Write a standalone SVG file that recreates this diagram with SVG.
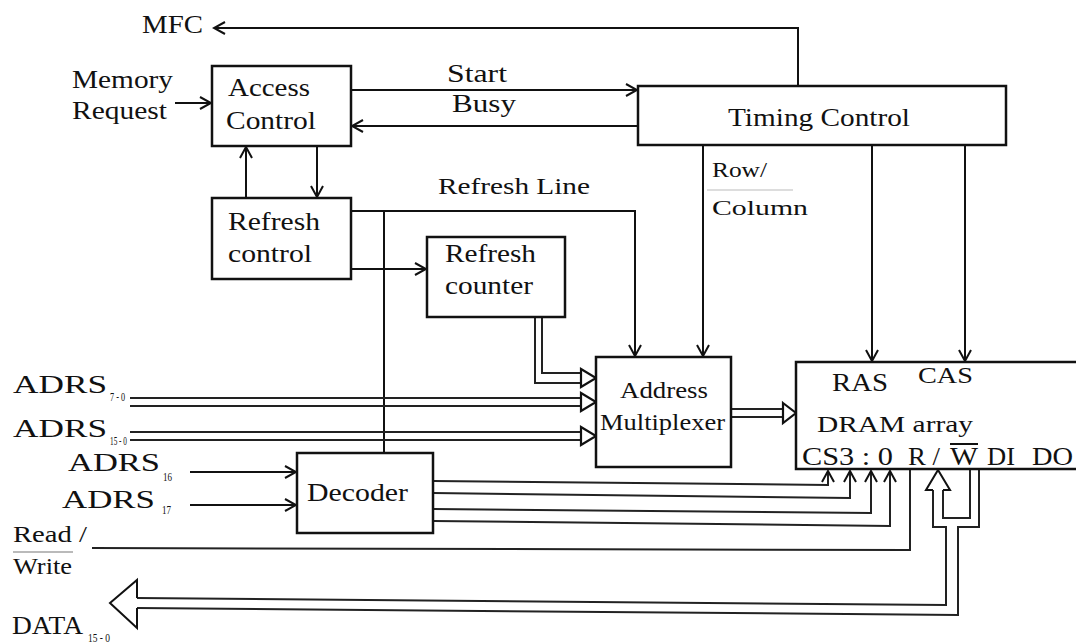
<svg xmlns="http://www.w3.org/2000/svg" width="1076" height="644" viewBox="0 0 1076 644">
<style>
.box{fill:#fff;stroke:#111;stroke-width:2.5}
.ln{fill:none;stroke:#111;stroke-width:2}
.bus{fill:none;stroke:#222;stroke-width:2}
.hol{fill:#fff;stroke:#111;stroke-width:2.2;stroke-linejoin:miter}
.t{font-family:"Liberation Serif","Times New Roman",serif;fill:#111;font-size:26px}
.s{font-family:"Liberation Serif","Times New Roman",serif;fill:#111;font-size:12px}
</style>
<defs>
<marker id="arr" viewBox="0 0 14 14" markerWidth="14" markerHeight="14" refX="12" refY="7" orient="auto" markerUnits="userSpaceOnUse">
<path d="M1,1 L12,7 L1,13" fill="none" stroke="#111" stroke-width="2"/>
</marker>
</defs>
<rect width="1076" height="644" fill="#fff"/>

<g id="connectors">
<polyline class="ln" points="798,86 798,28 214,28" marker-end="url(#arr)"/>
<line class="ln" x1="175" y1="103" x2="211" y2="103" marker-end="url(#arr)"/>
<line class="ln" x1="351" y1="90" x2="637" y2="90" marker-end="url(#arr)"/>
<line class="ln" x1="638" y1="126" x2="352" y2="126" marker-end="url(#arr)"/>
<line class="ln" x1="246" y1="198" x2="246" y2="147" marker-end="url(#arr)"/>
<line class="ln" x1="317" y1="146" x2="317" y2="197" marker-end="url(#arr)"/>
<polyline class="ln" points="351,211 635,211 635,356" marker-end="url(#arr)"/>
<line class="ln" x1="384" y1="211" x2="384" y2="453"/>
<line class="ln" x1="351" y1="269" x2="426" y2="269" marker-end="url(#arr)"/>
<line class="ln" x1="703" y1="146" x2="703" y2="356" marker-end="url(#arr)"/>
<line class="ln" x1="872" y1="146" x2="872" y2="361" marker-end="url(#arr)"/>
<line class="ln" x1="965" y1="146" x2="965" y2="361" marker-end="url(#arr)"/>
<polyline class="bus" points="535,317 535,383 581,383"/>
<polyline class="bus" points="542,317 542,373 581,373"/>
<polygon class="hol" points="581,369 596,378 581,387"/>
<line class="bus" x1="130" y1="398" x2="581" y2="398"/>
<line class="bus" x1="130" y1="406" x2="581" y2="406"/>
<polygon class="hol" points="581,393 596,402 581,411"/>
<line class="bus" x1="130" y1="432" x2="581" y2="432"/>
<line class="bus" x1="130" y1="440" x2="581" y2="440"/>
<polygon class="hol" points="581,427 596,436 581,445"/>
<line class="bus" x1="731" y1="409" x2="783" y2="409"/>
<line class="bus" x1="731" y1="417" x2="783" y2="417"/>
<polygon class="hol" points="783,403 796,413 783,423"/>
<line class="ln" x1="190" y1="472" x2="296" y2="472" marker-end="url(#arr)"/>
<line class="ln" x1="190" y1="505" x2="296" y2="505" marker-end="url(#arr)"/>
<polyline class="bus" points="433,481 828,485 828,471" marker-end="url(#arr)"/>
<polyline class="bus" points="433,493 850,498 850,471" marker-end="url(#arr)"/>
<polyline class="bus" points="433,509 871,513 871,471" marker-end="url(#arr)"/>
<polyline class="bus" points="433,521 890,526 890,471" marker-end="url(#arr)"/>
<polyline class="bus" points="92,548 910,550 910,469"/>
<path class="bus" d="M979,469 V527 H958 V615 L137,608"/>
<path class="bus" d="M933,490 V527 H946 V605 L137,598"/>
<path class="bus" d="M970,469 V518 H943 V490"/>
<polyline class="ln" points="933,490 926,490 938,470 950,490 943,490"/>
<polyline class="ln" points="137,598 137,580 110,603 137,628 137,608"/>
</g>

<g id="access-control">
<rect class="box" x="212" y="66" width="139" height="80"/>
<text class="t" x="228" y="96" textLength="82" lengthAdjust="spacingAndGlyphs">Access</text>
<text class="t" x="226" y="129" textLength="90" lengthAdjust="spacingAndGlyphs">Control</text>
</g>
<g id="refresh-control">
<rect class="box" x="212" y="198" width="139" height="81"/>
<text class="t" x="228" y="230" textLength="92" lengthAdjust="spacingAndGlyphs">Refresh</text>
<text class="t" x="228" y="262" textLength="84" lengthAdjust="spacingAndGlyphs">control</text>
</g>
<g id="timing-control">
<rect class="box" x="638" y="86" width="368" height="59"/>
<text class="t" x="728" y="126" textLength="182" lengthAdjust="spacingAndGlyphs">Timing Control</text>
</g>
<g id="refresh-counter">
<rect class="box" x="427" y="237" width="138" height="80"/>
<text class="t" x="445" y="262" textLength="91" lengthAdjust="spacingAndGlyphs" style="font-size:25px">Refresh</text>
<text class="t" x="445" y="294" textLength="88" lengthAdjust="spacingAndGlyphs" style="font-size:25px">counter</text>
</g>
<g id="address-multiplexer">
<rect class="box" x="596" y="357" width="135" height="110"/>
<text class="t" x="620" y="398" textLength="88" lengthAdjust="spacingAndGlyphs" style="font-size:23px">Address</text>
<text class="t" x="600" y="430" textLength="125" lengthAdjust="spacingAndGlyphs" style="font-size:23px">Multiplexer</text>
</g>
<g id="dram-array">
<rect class="box" x="796" y="362" width="300" height="107"/>
<text class="t" x="832" y="391" textLength="56" lengthAdjust="spacingAndGlyphs">RAS</text>
<text class="t" x="918" y="383" textLength="55" lengthAdjust="spacingAndGlyphs" style="font-size:24px">CAS</text>
<text class="t" x="817" y="432" textLength="156" lengthAdjust="spacingAndGlyphs" style="font-size:23px">DRAM array</text>
<text class="t" x="802" y="465" textLength="91" lengthAdjust="spacingAndGlyphs" style="font-size:25px">CS3 : 0</text>
<text class="t" x="908" y="465" textLength="32" lengthAdjust="spacingAndGlyphs" style="font-size:25px">R /</text>
<text class="t" x="950" y="465" textLength="28" lengthAdjust="spacingAndGlyphs" style="font-size:25px">W</text>
<line x1="950" y1="444" x2="978" y2="444" stroke="#111" stroke-width="2"/>
<text class="t" x="987" y="465" textLength="28" lengthAdjust="spacingAndGlyphs" style="font-size:25px">DI</text>
<text class="t" x="1032" y="465" textLength="41" lengthAdjust="spacingAndGlyphs" style="font-size:25px">DO</text>
</g>
<g id="decoder">
<rect class="box" x="297" y="453" width="136" height="80"/>
<text class="t" x="307" y="501" textLength="101" lengthAdjust="spacingAndGlyphs" style="font-size:25px">Decoder</text>
</g>

<g id="labels">
<text class="t" x="142" y="33" textLength="61" lengthAdjust="spacingAndGlyphs">MFC</text>
<text class="t" x="72" y="88" textLength="101" lengthAdjust="spacingAndGlyphs">Memory</text>
<text class="t" x="72" y="119" textLength="95" lengthAdjust="spacingAndGlyphs">Request</text>
<text class="t" x="447" y="82" textLength="60" lengthAdjust="spacingAndGlyphs">Start</text>
<text class="t" x="452" y="112" textLength="64" lengthAdjust="spacingAndGlyphs">Busy</text>
<text class="t" x="438" y="194" textLength="152" lengthAdjust="spacingAndGlyphs" style="font-size:24px">Refresh Line</text>
<text class="t" x="712" y="177" textLength="55" lengthAdjust="spacingAndGlyphs" style="font-size:21px">Row/</text>
<line x1="707" y1="190" x2="793" y2="190" stroke="#bbb" stroke-width="1.2"/>
<text class="t" x="712" y="215" textLength="96" lengthAdjust="spacingAndGlyphs" style="font-size:21px">Column</text>
<text class="t" x="13" y="393" textLength="94" lengthAdjust="spacingAndGlyphs">ADRS</text>
<text class="s" x="110" y="401" textLength="15" lengthAdjust="spacingAndGlyphs">7 - 0</text>
<text class="t" x="13" y="437" textLength="94" lengthAdjust="spacingAndGlyphs">ADRS</text>
<text class="s" x="110" y="445" textLength="17" lengthAdjust="spacingAndGlyphs">15 - 0</text>
<text class="t" x="68" y="471" textLength="92" lengthAdjust="spacingAndGlyphs">ADRS</text>
<text class="s" x="163" y="481" textLength="9" lengthAdjust="spacingAndGlyphs">16</text>
<text class="t" x="62" y="508" textLength="93" lengthAdjust="spacingAndGlyphs">ADRS</text>
<text class="s" x="162" y="514" textLength="9" lengthAdjust="spacingAndGlyphs">17</text>
<text class="t" x="13" y="542" textLength="74" lengthAdjust="spacingAndGlyphs" style="font-size:24px">Read /</text>
<line x1="13" y1="552" x2="73" y2="552" stroke="#777" stroke-width="1.2"/>
<text class="t" x="13" y="574" textLength="59" lengthAdjust="spacingAndGlyphs" style="font-size:24px">Write</text>
<text class="t" x="12" y="634" textLength="71" lengthAdjust="spacingAndGlyphs">DATA</text>
<text class="s" x="88" y="642" textLength="22" lengthAdjust="spacingAndGlyphs">15 - 0</text>
</g>
</svg>
